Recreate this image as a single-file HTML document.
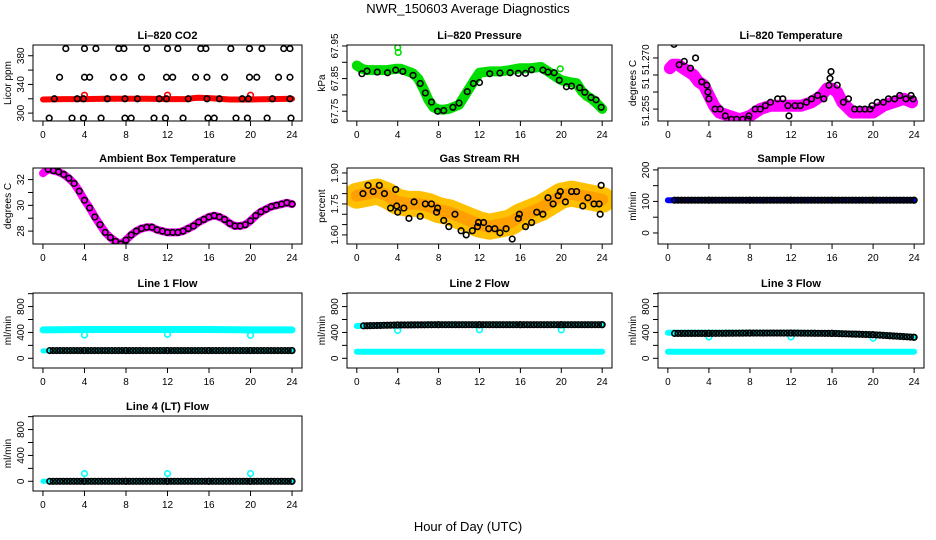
<!DOCTYPE html>
<html><head><meta charset="utf-8">
<style>
body{margin:0;background:#fff;}
svg{display:block;font-family:"Liberation Sans",Arial,sans-serif;}
</style></head>
<body>
<svg id="chart" width="936" height="540" viewBox="0 0 936 540" xmlns="http://www.w3.org/2000/svg">
<text x="468" y="13" text-anchor="middle" font-size="13">NWR_150603  Average Diagnostics</text>
<text x="468" y="531" text-anchor="middle" font-size="13">Hour of Day (UTC)</text>
</svg>
<script>
// ---------- data ----------
const xTicks=[0,4,8,12,16,20,24];
// CO2
const co2BandHours=[0,2,4,6,8,10,12,14,14.5,15,16,17,18,20,22,24];
const co2BandVals=[319,319.5,319.5,320,320,320,319.5,319.5,321,321.5,321,320,319,319,319.5,320];
const co2OutHours=[4,12,20];
const co2OutVals=[325,325,325];
const co2BlackHours=[2.2,4,5.1,7.3,7.8,10,12,13,15.2,15.7,18.1,19.9,21.1,23.2,23.8,1.6,4,4.5,6.8,7.8,9.5,11.9,12.5,14.7,15.8,17.5,19.9,20.6,22.7,23.8,1.1,3.3,3.9,6.2,7.9,9.1,11.2,11.9,14,15.8,17,19.2,19.8,22.1,23.8,0.6,2.8,3.9,5.6,7.9,8.5,10.7,11.8,13.5,15.9,16.5,18.6,19.7,21.6,23.9];
const co2BlackVals=[390,390,390,390,390,390,390,390,390,390,390,390,390,390,390,350,350,350,350,350,350,350,350,350,350,350,350,350,350,350,320,320,320,320,320,320,320,320,320,320,320,320,320,320,320,293,293,293,293,293,293,293,293,293,293,293,293,293,293,293];
// Pressure
const presHours=[0,0.5,1,2,3,3.8,4.3,5,5.5,6,6.5,7,7.5,8,8.5,9,10,10.5,11,11.5,12,13,14,15,16,17,18,19,19.5,20,21,21.5,22,22.5,23,23.5,24];
const presVals=[67.89,67.88,67.876,67.876,67.876,67.88,67.88,67.872,67.866,67.85,67.82,67.785,67.762,67.755,67.755,67.757,67.77,67.795,67.82,67.845,67.868,67.872,67.872,67.876,67.882,67.882,67.886,67.866,67.855,67.845,67.838,67.836,67.812,67.797,67.787,67.773,67.757];
const presOutHours=[4,4.05,19.9];
const presOutVals=[67.945,67.93,67.88];
const presBlackHours=[0.5,1,2,3,3.8,4.5,5.5,6.2,6.7,7.3,7.9,8.5,9.4,10,10.8,11.4,12,13,14,15,15.8,16.5,17.1,18.2,18.7,19.3,19.8,20.5,21,21.8,22.3,22.9,23.4,23.9];
const presBlackVals=[67.865,67.873,67.87,67.868,67.876,67.872,67.86,67.835,67.806,67.778,67.75,67.752,67.762,67.775,67.81,67.835,67.838,67.865,67.867,67.868,67.866,67.866,67.877,67.876,67.87,67.868,67.845,67.825,67.827,67.822,67.808,67.792,67.785,67.762];
// Li-820 temperature
const ltHours=[0.2,0.5,1,1.5,2,2.5,3,3.5,4,4.5,5,6,7,8,9,10,11,12,13,14,15,15.5,16,16.5,17,18,19,20,21,22,23,23.8];
const ltVals=[51.267,51.268,51.268,51.267,51.266,51.265,51.263,51.262,51.259,51.256,51.254,51.253,51.252,51.253,51.255,51.256,51.256,51.256,51.256,51.257,51.259,51.261,51.261,51.260,51.257,51.254,51.254,51.254,51.256,51.257,51.258,51.257];
const ltBlackHours=[0.6,1.1,1.6,2.2,2.7,3.3,3.8,3.9,4,4.6,5.1,5.6,6.2,6.7,7.3,7.8,7.9,8.5,9,9.5,10,10.7,11.2,11.7,11.8,12.4,12.9,13.5,14,14.6,15.2,15.7,15.8,15.9,16.5,17.1,17.6,18.2,18.7,19.2,19.7,19.9,20.4,21,21.5,22.1,22.6,23.2,23.7,23.9];
const ltBlackVals=[51.274,51.268,51.269,51.267,51.270,51.263,51.262,51.260,51.258,51.255,51.255,51.253,51.252,51.252,51.252,51.252,51.253,51.255,51.255,51.256,51.257,51.258,51.258,51.256,51.253,51.256,51.256,51.257,51.258,51.259,51.258,51.262,51.264,51.266,51.262,51.257,51.258,51.255,51.255,51.255,51.255,51.256,51.257,51.257,51.258,51.258,51.259,51.258,51.259,51.258];
// Ambient box temperature
const ambHours=[0,0.5,1,1.5,2,2.5,3,3.5,4,4.5,5,5.5,6,6.5,7,7.5,8,8.5,9,9.5,10,10.5,11,11.5,12,12.5,13,13.5,14,14.5,15,15.5,16,16.5,17,17.5,18,18.5,19,19.5,20,20.5,21,21.5,22,22.5,23,23.5,24];
const ambVals=[32.5,32.8,32.7,32.6,32.4,32.1,31.7,31.1,30.4,29.8,29.1,28.5,27.9,27.5,27.2,27.0,27.3,27.7,28.0,28.2,28.3,28.3,28.1,28.0,27.9,27.9,27.9,28.0,28.2,28.4,28.7,28.9,29.1,29.2,29.1,28.9,28.6,28.4,28.4,28.5,28.8,29.2,29.5,29.7,29.9,30.0,30.1,30.2,30.1];
// Gas stream RH
const rhHours=[0,1,2,3,4,5,6,7,8,9,10,11,12,13,14,15,16,17,18,19,20,21,22,23,24];
const rhVals=[1.79,1.80,1.81,1.79,1.76,1.75,1.75,1.74,1.72,1.71,1.69,1.67,1.65,1.64,1.65,1.66,1.69,1.71,1.73,1.76,1.79,1.80,1.79,1.78,1.77];
const rhBlackHours=[0.6,1.1,1.6,2.2,2.7,3.3,3.8,3.9,4,4.6,5.1,5.6,6.2,6.7,7.3,7.8,7.9,8.5,9,9.6,10.2,10.7,11.3,11.8,11.9,12.4,12.9,13.5,14,14.6,15.2,15.8,15.9,16.5,17.1,17.6,18.2,18.7,19.2,19.7,19.9,20.4,21,21.5,22.1,22.6,23.2,23.7,23.8,23.9];
const rhBlackVals=[1.80,1.84,1.81,1.84,1.80,1.73,1.82,1.74,1.71,1.73,1.68,1.76,1.69,1.75,1.75,1.71,1.73,1.67,1.64,1.70,1.62,1.60,1.62,1.64,1.66,1.66,1.63,1.63,1.61,1.63,1.58,1.68,1.70,1.64,1.66,1.71,1.70,1.78,1.75,1.79,1.81,1.76,1.81,1.81,1.74,1.78,1.75,1.75,1.70,1.84];
// Sample flow
const sfHours=[0,4,8,12,16,20,24];
const sfVals=[104,104,104,104,104,104,104];
// Line flows
const lfHours=[0,4,8,12,16,20,24];
const l1Upper=[440,445,445,445,445,440,440];
const l1Lower=[115,115,115,115,115,115,115];
const l1Black=[120,120,120,120,120,120,120];
const l2Upper=[500,515,520,520,520,520,520];
const l2Lower=[100,100,100,100,100,100,100];
const l2Black=[500,515,520,520,520,520,520];
const l3Upper=[395,395,395,395,390,370,330];
const l3Lower=[100,100,100,100,100,100,100];
const l3Black=[385,385,390,390,385,365,325];
const l4Cyan=[0,0,0,0,0,0,0];
const l4Black=[0,0,0,0,0,0,0];
const flowOutHours=[4,12,20];
const l1OutVals=[360,370,355];
const l2OutVals=[430,440,440];
const l3OutVals=[330,330,310];
const l4OutVals=[120,120,120];

// ---------- drawing ----------
const NS="http://www.w3.org/2000/svg";
const svg=document.getElementById('chart');
function mk(tag,attrs,parent){const e=document.createElementNS(NS,tag);for(const k in attrs)e.setAttribute(k,attrs[k]);(parent||svg).appendChild(e);return e;}
const cols=[[33,302],[347,612],[658,924]];
const rows=[[45,121],[168,244],[293,368],[416,491]];
function panel(name,title,col,row,ylim,yticks,ylabels,ylab){
  const [x0,x1]=cols[col],[y0,y1]=rows[row];
  const g=mk('g',{});
  
  
  const pad=(x1-x0)*0.04/1.08;
  const sx=v=>x0+pad+(v/24)*(x1-x0-2*pad);
  const sy=v=>y1-(v-ylim[0])/(ylim[1]-ylim[0])*(y1-y0);
  const t=mk('text',{x:(x0+x1)/2,y:y0-6,'text-anchor':'middle','font-size':11,'font-weight':'bold'},g);
  t.textContent=title;
  
  
  const clip=mk('clipPath',{id:'c'+name},g);mk('rect',{x:x0,y:y0,width:x1-x0,height:y1-y0},clip);
  const plot=mk('g',{'clip-path':'url(#c'+name+')'},g);
  
  
  const box=mk('rect',{x:x0,y:y0,width:x1-x0,height:y1-y0,fill:'none',stroke:'#000','stroke-width':1},g);
  
  
  const xa=mk('g',{},g);
  
  
  xTicks.forEach(v=>{mk('line',{x1:sx(v),x2:sx(v),y1:y1,y2:y1+5,stroke:'#000'},xa);
    const tx=mk('text',{x:sx(v),y:y1+17,'text-anchor':'middle','font-size':10},xa);tx.textContent=v;});
  const ya=mk('g',{},g);
  
  
  yticks.forEach(v=>{mk('line',{x1:x0-5,x2:x0,y1:sy(v),y2:sy(v),stroke:'#000'},ya);});
  ylabels.forEach((v,i)=>{const yy=sy(v[0]);const tx=mk('text',{x:x0-9,y:yy,'text-anchor':'middle','font-size':10,transform:`rotate(-90 ${x0-9} ${yy})`},ya);tx.textContent=v[1];});
  const yl=mk('text',{x:x0-22,y:(y0+y1)/2,'text-anchor':'middle','font-size':10,transform:`rotate(-90 ${x0-22} ${(y0+y1)/2})`},g);
  yl.textContent=ylab;
  
  
  return {sx,sy,plot};
}
function band(p,name,hours,vals,color,w){
  const d=hours.map((h,i)=>(i?'L':'M')+p.sx(h).toFixed(1)+','+p.sy(vals[i]).toFixed(1)).join(' ');
  const e=mk('path',{d:d,fill:'none',stroke:color,'stroke-width':w,'stroke-linejoin':'round','stroke-linecap':'round'},p.plot);
  
  
}
function pts(p,name,hours,vals,color,r){
  const g=mk('g',{},p.plot);
  
  
  hours.forEach((h,i)=>{const c=mk('circle',{cx:p.sx(h),cy:p.sy(vals[i]),r:r||2.8,fill:'none',stroke:color,'stroke-width':1.6},g);
    
    });
}
function densePts(p,name,hours,vals,color,step){
  const hh=[],vv=[];
  for(let i=0;i<hours.length-1;i++){for(let h=hours[i];h<hours[i+1];h+=step){const f=(h-hours[i])/(hours[i+1]-hours[i]);hh.push(h);vv.push(vals[i]+(vals[i+1]-vals[i])*f);}}
  hh.push(hours[hours.length-1]);vv.push(vals[vals.length-1]);
  pts(p,name,hh.filter(h=>h>=0.5),vv.filter((v,i)=>hh[i]>=0.5),color,2.8);
}
// Panel 1
let p=panel('co2','Li\u2013820 CO2',0,0,[289,395],[300,320,340,360,380],[[300,'300'],[340,'340'],[380,'380']],'Licor ppm');
band(p,'co2-raw-band',co2BandHours,co2BandVals,'#ff0000',6);
pts(p,'co2-raw-outliers',co2OutHours,co2OutVals,'#ff0000');
pts(p,'co2-averages',co2BlackHours,co2BlackVals,'#000');
// Panel 2
p=panel('pressure','Li\u2013820 Pressure',1,0,[67.72,67.953],[67.75,67.80,67.85,67.90,67.95],[[67.75,'67.75'],[67.85,'67.85'],[67.95,'67.95']],'kPa');
band(p,'pressure-raw-band',presHours,presVals,'#00dd00',10);
pts(p,'pressure-raw-outliers',presOutHours,presOutVals,'#00dd00');
pts(p,'pressure-averages',presBlackHours,presBlackVals,'#000');
// Panel 3
p=panel('li820-temp','Li\u2013820 Temperature',2,0,[51.2515,51.2738],[51.255,51.260,51.265,51.270],[[51.2545,'51.255'],[51.2625,'51'],[51.2695,'51.270']],'degrees C');
band(p,'li820-temp-raw-band',ltHours,ltVals,'#ff00ff',12);
pts(p,'li820-temp-averages',ltBlackHours,ltBlackVals,'#000');
// Panel 4
p=panel('ambient','Ambient Box Temperature',0,1,[27.0,32.9],[28,29,30,31,32],[[28,'28'],[30,'30'],[32,'32']],'degrees C');
band(p,'ambient-raw-band',ambHours,ambVals,'#ff00ff',8);
pts(p,'ambient-averages',ambHours.slice(1),ambVals.slice(1),'#000');
// Panel 5
p=panel('rh','Gas Stream RH',1,1,[1.556,1.924],[1.60,1.65,1.70,1.75,1.80,1.85,1.90],[[1.60,'1.60'],[1.75,'1.75'],[1.90,'1.90']],'percent');
band(p,'rh-raw-band',rhHours,rhVals,'#ffc000',26);
band(p,'rh-raw-core',rhHours,rhVals,'#ffa000',12);
pts(p,'rh-averages',rhBlackHours,rhBlackVals,'#000');
// Panel 6
p=panel('sample-flow','Sample Flow',2,1,[-35,206],[0,50,100,150,200],[[0,'0'],[100,'100'],[200,'200']],'ml/min');
band(p,'sample-flow-raw',sfHours,sfVals,'#0000ff',6);
densePts(p,'sample-flow-averages',sfHours,sfVals,'#000',0.33);
// Panels 7-10
const fT=[0,200,400,600,800,1000],fL=[[0,'0'],[400,'400'],[800,'800']],fY=[-150,1010];
p=panel('line1','Line 1 Flow',0,2,fY,fT,fL,'ml/min');
band(p,'line1-upper-raw',lfHours,l1Upper,'#00ffff',7);
band(p,'line1-lower-raw',lfHours,l1Lower,'#00ffff',5);
pts(p,'line1-outliers',flowOutHours,l1OutVals,'#00ffff');
densePts(p,'line1-averages',lfHours,l1Black,'#000',0.33);
p=panel('line2','Line 2 Flow',1,2,fY,fT,fL,'ml/min');
band(p,'line2-upper-raw',lfHours,l2Upper,'#00ffff',6);
band(p,'line2-lower-raw',lfHours,l2Lower,'#00ffff',6);
pts(p,'line2-outliers',flowOutHours,l2OutVals,'#00ffff');
densePts(p,'line2-averages',lfHours,l2Black,'#000',0.33);
p=panel('line3','Line 3 Flow',2,2,fY,fT,fL,'ml/min');
band(p,'line3-upper-raw',lfHours,l3Upper,'#00ffff',6);
band(p,'line3-lower-raw',lfHours,l3Lower,'#00ffff',6);
pts(p,'line3-outliers',flowOutHours,l3OutVals,'#00ffff');
densePts(p,'line3-averages',lfHours,l3Black,'#000',0.33);
p=panel('line4','Line 4 (LT) Flow',0,3,fY,fT,fL,'ml/min');
band(p,'line4-raw',lfHours,l4Cyan,'#00ffff',5);
pts(p,'line4-outliers',flowOutHours,l4OutVals,'#00ffff');
densePts(p,'line4-averages',lfHours,l4Black,'#000',0.33);
</script>
</body></html>
